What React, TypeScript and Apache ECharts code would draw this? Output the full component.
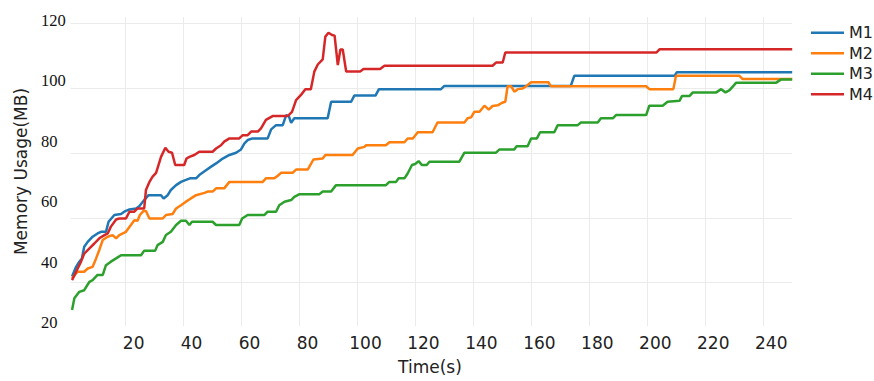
import React, { useEffect, useRef } from 'react';
import * as echarts from 'echarts';

const seriesNames = ['M1', 'M2', 'M3', 'M4'];
const seriesColors = ['#1f77b4', '#ff7f0e', '#2ca02c', '#d62728'];

// [time (s), memory (MB)]
const m1: number[][] = [
  [1.5, 41.9], [2.9, 44.9], [4.0, 46.5], [4.9, 47.5], [5.7, 51.1], [6.9, 52.6], [8.6, 54.2], [10.3, 55.2],
  [11.5, 55.7], [13.2, 55.7], [14.1, 58.8], [16.1, 60.9], [18.4, 61.2], [19.5, 61.9], [21.3, 62.6], [23.6, 62.9],
  [24.7, 63.6], [26.4, 65.5], [27.9, 67.0], [32.2, 67.0], [33.1, 66.0], [34.5, 67.0], [35.6, 68.6], [37.4, 70.1],
  [39.1, 71.1], [40.8, 71.7], [42.2, 72.2], [44.3, 72.2], [45.4, 73.2], [47.7, 74.7], [49.5, 75.8], [51.2, 76.8],
  [53.5, 78.3], [55.8, 79.4], [58.1, 80.1], [59.8, 81.1], [61.0, 83.0], [62.1, 84.0], [63.8, 84.5], [69.0, 84.5],
  [70.2, 87.3], [71.9, 88.6], [74.2, 88.6], [75.4, 91.7], [76.3, 91.4], [77.1, 89.3], [78.2, 90.7], [89.7, 90.7],
  [90.9, 95.8], [97.8, 95.8], [98.9, 97.7], [106.2, 97.7], [107.4, 99.7], [128.8, 99.7], [130.0, 100.7],
  [173.6, 100.7], [174.8, 103.8], [209.4, 103.8], [210.2, 104.9], [250, 104.9],
];

const m2: number[][] = [
  [1.5, 41.3], [2.9, 42.9], [3.4, 43.4], [5.7, 43.4], [6.9, 44.4], [8.6, 44.9], [9.8, 47.5], [10.9, 50.1],
  [12.1, 53.2], [13.8, 54.2], [15.5, 54.7], [16.7, 53.7], [17.8, 54.7], [20.1, 55.7], [21.8, 57.8], [23.0, 59.3],
  [24.1, 59.1], [24.9, 60.9], [26.1, 62.1], [27.0, 62.1], [28.2, 59.8], [32.8, 59.8], [33.9, 60.9], [36.2, 61.2],
  [37.4, 62.9], [39.1, 63.9], [40.8, 65.0], [42.5, 66.0], [44.3, 67.0], [47.2, 67.7], [48.3, 68.1], [50.0, 68.1],
  [51.2, 69.1], [54.0, 69.1], [55.8, 71.1], [67.3, 71.1], [68.4, 72.2], [71.3, 72.2], [72.5, 73.0], [73.6, 73.9],
  [77.6, 73.9], [78.8, 74.9], [82.8, 74.9], [83.4, 75.8], [84.8, 78.0], [88.0, 78.3], [88.9, 79.4], [98.3, 79.4],
  [100.1, 81.4], [102.4, 81.9], [103.0, 82.4], [109.8, 82.4], [111.0, 83.3], [116.2, 83.3], [117.3, 84.5],
  [119.1, 84.5], [120.8, 86.4], [125.9, 86.4], [127.6, 89.4], [136.9, 89.4], [138.0, 90.7], [139.2, 91.0],
  [140.3, 92.7], [142.1, 92.7], [143.8, 94.6], [145.3, 93.4], [146.6, 94.5], [148.4, 94.7], [149.9, 95.5],
  [151.0, 95.8], [151.8, 100.6], [153.0, 100.6], [154.1, 98.9], [155.3, 99.7], [157.0, 99.9], [158.2, 100.6],
  [159.9, 101.8], [165.9, 101.8], [166.7, 100.6], [199.6, 100.6], [200.7, 99.7], [209.0, 99.7], [209.9, 103.8],
  [231.8, 103.8], [232.9, 102.8], [250, 102.8],
];

const m3: number[][] = [
  [1.5, 31.6], [2.3, 35.2], [4.0, 37.2], [5.7, 37.7], [7.5, 40.3], [8.6, 40.8], [10.3, 42.4], [12.1, 42.4],
  [13.2, 45.4], [14.9, 46.5], [16.7, 47.5], [18.4, 48.5], [25.3, 48.5], [26.4, 49.9], [30.2, 49.9], [31.0, 51.6],
  [32.8, 52.6], [33.9, 54.7], [35.6, 55.7], [37.4, 57.8], [39.1, 59.1], [40.8, 59.1], [42.0, 57.8], [42.9, 58.8],
  [50.0, 58.8], [51.2, 57.8], [59.2, 57.8], [60.2, 59.8], [62.1, 60.9], [67.9, 60.9], [69.0, 61.9], [71.9, 61.9],
  [73.0, 63.9], [74.8, 65.0], [77.1, 65.5], [78.2, 66.5], [80.0, 67.3], [86.8, 67.3], [88.0, 68.1], [90.9, 68.1],
  [92.6, 70.1], [109.8, 70.1], [111.0, 71.1], [113.3, 71.1], [114.2, 72.2], [116.2, 72.2], [117.3, 73.7],
  [118.8, 76.3], [119.9, 76.6], [121.1, 77.5], [122.2, 76.3], [123.9, 76.3], [124.8, 77.3], [135.1, 77.3],
  [136.9, 80.1], [147.8, 80.1], [149.0, 81.1], [154.1, 81.1], [154.9, 82.1], [158.7, 82.1], [159.9, 84.5],
  [161.9, 84.5], [163.0, 86.4], [167.9, 86.4], [169.1, 88.6], [176.0, 88.6], [177.1, 89.4], [182.9, 89.4],
  [184.0, 90.7], [188.1, 90.7], [189.2, 91.7], [199.6, 91.7], [200.7, 94.6], [205.3, 94.6], [207.0, 95.8],
  [211.1, 96.1], [212.0, 97.6], [214.6, 97.6], [215.7, 98.7], [223.8, 98.7], [225.5, 99.7], [227.0, 98.7],
  [228.4, 99.4], [230.7, 101.7], [244.5, 101.7], [246.2, 102.7], [250, 102.7],
];

const m4: number[][] = [
  [1.5, 40.8], [2.9, 43.4], [4.6, 46.5], [5.7, 49.0], [7.5, 50.6], [9.2, 52.1], [10.9, 53.7], [12.7, 54.7],
  [13.8, 55.2], [14.9, 57.3], [16.7, 59.5], [17.8, 59.8], [20.1, 59.8], [21.3, 61.9], [23.0, 61.9], [24.1, 62.9],
  [26.4, 62.9], [27.0, 68.6], [28.2, 71.1], [29.3, 72.7], [30.5, 73.9], [32.2, 78.8], [33.7, 81.6], [34.8, 80.4],
  [36.0, 80.1], [37.1, 76.3], [40.2, 76.3], [41.0, 78.3], [42.0, 78.8], [43.7, 79.4], [45.4, 80.4], [50.0, 80.4],
  [51.2, 81.4], [52.9, 82.4], [54.0, 83.5], [55.8, 84.5], [59.2, 84.5], [60.4, 85.5], [62.1, 85.5], [63.3, 86.6],
  [65.6, 86.6], [66.7, 87.6], [68.4, 90.2], [70.7, 91.4], [75.9, 91.4], [77.4, 92.7], [78.8, 96.3], [80.5, 97.9],
  [82.0, 99.7], [83.9, 99.7], [85.1, 105.1], [86.3, 107.3], [88.0, 108.9], [88.9, 115.9], [90.0, 117.1],
  [91.2, 116.4], [92.1, 116.2], [93.2, 107.1], [94.1, 111.9], [94.9, 111.9], [96.1, 105.1], [100.9, 105.1],
  [102.1, 105.9], [107.8, 105.9], [109.3, 106.9], [146.6, 106.9], [147.8, 107.9], [150.1, 107.9], [151.0, 111.0],
  [203.2, 111.0], [204.3, 112.0], [250, 112.0],
];

const seriesData = [m1, m2, m3, m4];

const yTicks = [20, 40, 60, 80, 100, 120];
const xTickStep = 20;
const timeRange = [1, 250];

const sansFont = 'DejaVu Sans';
const serifFont = 'Liberation Serif';
const textColor = '#222';
const gridColor = '#ebebeb';

export default function App() {
  const ref = useRef<HTMLDivElement>(null);

  useEffect(() => {
    if (!ref.current) return;
    const chart = echarts.init(ref.current, undefined, { renderer: 'svg' });
    const yMin = yTicks[0];
    const yMax = yTicks[yTicks.length - 1];
    const yStep = yTicks[1] - yTicks[0];

    const option: any = {
      animation: false,
      backgroundColor: '#ffffff',
      color: seriesColors,
      textStyle: { fontFamily: sansFont },
      grid: [
        { left: 70.6, width: 721.6, top: 23.3, height: 324.3 },
        { left: 67.7, width: 724.5, top: 17, height: 309 },
        { left: 75.7, width: 724.5, top: 17, height: 309 },
        { left: 41, width: 700, top: 20.5, height: 302 },
      ],
      xAxis: [
        { gridIndex: 0, type: 'value', min: timeRange[0], max: timeRange[1], show: false },
        {
          gridIndex: 1, type: 'value', min: 0, max: timeRange[1], interval: xTickStep,
          axisLine: { show: false }, axisTick: { show: false }, axisLabel: { show: false },
          splitLine: { show: true, showMinLine: false, showMaxLine: false, lineStyle: { color: gridColor, width: 1 } },
          name: 'Time(s)', nameLocation: 'middle', nameGap: 32.5, nameMoveOverlap: false,
          nameTextStyle: { fontSize: 17, color: textColor, fontFamily: sansFont },
        },
        {
          gridIndex: 2, type: 'value', min: 0, max: timeRange[1], interval: xTickStep,
          axisLine: { show: false }, axisTick: { show: false }, splitLine: { show: false },
          axisLabel: { show: true, showMinLabel: false, showMaxLabel: false, margin: 8.5, fontSize: 17, color: textColor, fontFamily: sansFont },
        },
        { gridIndex: 3, type: 'value', min: 0, max: 1, show: false },
      ],
      yAxis: [
        {
          gridIndex: 0, type: 'value', min: yMin, max: yMax, interval: yStep,
          axisLine: { show: false }, axisTick: { show: false }, axisLabel: { show: false },
          splitLine: { show: true, showMinLine: false, lineStyle: { color: gridColor, width: 1 } },
        },
        { gridIndex: 1, type: 'value', min: 0, max: 1, show: false },
        { gridIndex: 2, type: 'value', min: 0, max: 1, show: false },
        {
          gridIndex: 3, type: 'value', min: yMin, max: yMax, interval: yStep,
          axisLine: { show: false }, axisTick: { show: false }, splitLine: { show: false },
          axisLabel: { show: true, align: 'left', margin: 0, fontSize: 16.5, color: '#111', fontFamily: serifFont },
          name: 'Memory Usage(MB)', nameLocation: 'middle', nameGap: 12, nameRotate: 90, nameMoveOverlap: false,
          nameTextStyle: { fontSize: 17, color: textColor, fontFamily: sansFont },
        },
      ],
      legend: {
        orient: 'vertical', left: 811, top: 24.8, padding: 0,
        itemWidth: 33, itemHeight: 17, itemGap: 4.5,
        icon: 'path://M0,0H33V2.5H0Z',
        textStyle: { fontSize: 16, color: textColor, fontFamily: sansFont },
        data: seriesNames,
      },
      series: seriesNames.map((name, i) => ({
        name,
        type: 'line',
        xAxisIndex: 0,
        yAxisIndex: 0,
        data: seriesData[i],
        symbol: 'none',
        showSymbol: false,
        lineStyle: { width: 2.5, color: seriesColors[i] },
        itemStyle: { color: seriesColors[i] },
      })),
    };
    chart.setOption(option);
    return () => chart.dispose();
  }, []);

  return <div ref={ref} style={{ position: 'absolute', left: 0, top: 0, width: 874, height: 381 }} />;
}
